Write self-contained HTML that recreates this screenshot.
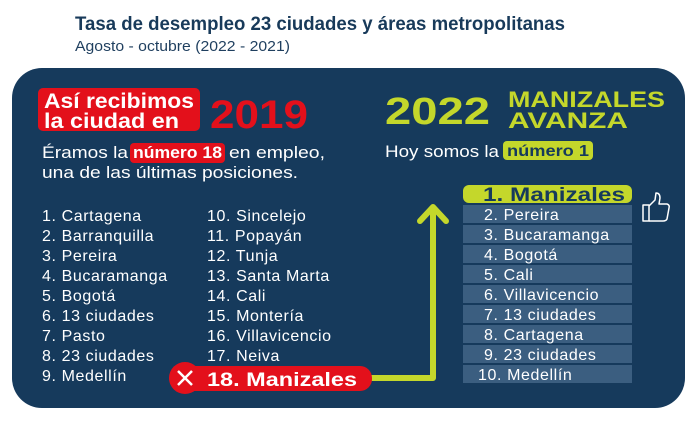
<!DOCTYPE html>
<html><head><meta charset="utf-8"><style>
html,body{margin:0;padding:0;background:#fff;width:700px;height:421px;overflow:hidden}
svg{display:block}
text{font-family:"Liberation Sans",sans-serif}
</style></head><body>
<svg width="700" height="421" viewBox="0 0 700 421" xmlns="http://www.w3.org/2000/svg">
<rect width="700" height="421" fill="#fff"/>
<text x="75" y="30" font-size="19" font-weight="bold" fill="#183a5a" textLength="490" lengthAdjust="spacingAndGlyphs">Tasa de desempleo 23 ciudades y áreas metropolitanas</text>
<text x="75" y="51" font-size="15" fill="#1f3f5f" textLength="215" lengthAdjust="spacingAndGlyphs">Agosto - octubre (2022 - 2021)</text>
<rect x="12" y="68" width="673" height="340" rx="30" fill="#163a5c"/>
<rect x="38" y="88" width="162" height="43" rx="5" fill="#e3101b"/>
<text x="44" y="108" font-size="21" font-weight="bold" fill="#fff" textLength="150" lengthAdjust="spacingAndGlyphs">Así recibimos</text>
<text x="44" y="128" font-size="21" font-weight="bold" fill="#fff" textLength="135" lengthAdjust="spacingAndGlyphs">la ciudad en</text>
<text x="210" y="128" font-size="40" font-weight="bold" fill="#e3101b" textLength="98" lengthAdjust="spacingAndGlyphs">2019</text>
<rect x="130" y="143" width="95" height="20" rx="4" fill="#e3101b"/>
<text x="42" y="158" font-size="17" fill="#fff" textLength="86" lengthAdjust="spacingAndGlyphs">Éramos la</text>
<text x="133" y="158" font-size="17" font-weight="bold" fill="#fff" textLength="89" lengthAdjust="spacingAndGlyphs">número 18</text>
<text x="229" y="158" font-size="17" fill="#fff" textLength="96" lengthAdjust="spacingAndGlyphs">en empleo,</text>
<text x="42" y="178" font-size="17" fill="#fff" textLength="256" lengthAdjust="spacingAndGlyphs">una de las últimas posiciones.</text>
<g font-size="16" fill="#fff" letter-spacing="0.6">
<text x="42" y="221">1. Cartagena</text>
<text x="42" y="241">2. Barranquilla</text>
<text x="42" y="261">3. Pereira</text>
<text x="42" y="281">4. Bucaramanga</text>
<text x="42" y="301">5. Bogotá</text>
<text x="42" y="321">6. 13 ciudades</text>
<text x="42" y="341">7. Pasto</text>
<text x="42" y="361">8. 23 ciudades</text>
<text x="42" y="381">9. Medellín</text>
<text x="207" y="221">10. Sincelejo</text>
<text x="207" y="241">11. Popayán</text>
<text x="207" y="261">12. Tunja</text>
<text x="207" y="281">13. Santa Marta</text>
<text x="207" y="301">14. Cali</text>
<text x="207" y="321">15. Montería</text>
<text x="207" y="341">16. Villavicencio</text>
<text x="207" y="361">17. Neiva</text>
</g>
<polyline points="370,378 433,378 433,208" fill="none" stroke="#c4d72b" stroke-width="6" stroke-linejoin="round"/>
<polyline points="420,221 433,207 446,221" fill="none" stroke="#c4d72b" stroke-width="6" stroke-linecap="round" stroke-linejoin="round"/>
<rect x="175" y="366" width="197" height="25" rx="12" fill="#e3101b"/>
<circle cx="185" cy="378" r="16" fill="#e3101b"/>
<path d="M178 371 L192 385 M192 371 L178 385" stroke="#fff" stroke-width="2.5"/>
<text x="207" y="386" font-size="19" font-weight="bold" fill="#fff" textLength="150" lengthAdjust="spacingAndGlyphs">18. Manizales</text>
<text x="385" y="124" font-size="38" font-weight="bold" fill="#c4d72b" textLength="105" lengthAdjust="spacingAndGlyphs">2022</text>
<text x="508" y="107" font-size="22" font-weight="bold" fill="#c4d72b" textLength="157" lengthAdjust="spacingAndGlyphs">MANIZALES</text>
<text x="508" y="128" font-size="22" font-weight="bold" fill="#c4d72b" textLength="120" lengthAdjust="spacingAndGlyphs">AVANZA</text>
<text x="385" y="157" font-size="17" fill="#fff" textLength="114" lengthAdjust="spacingAndGlyphs">Hoy somos la</text>
<rect x="503" y="141" width="90" height="19" rx="4" fill="#c4d72b"/>
<text x="507" y="156" font-size="16" font-weight="bold" fill="#163a5c" textLength="82" lengthAdjust="spacingAndGlyphs">número 1</text>
<rect x="463" y="185" width="169" height="18" rx="6" fill="#c4d72b"/>
<text x="483" y="201" font-size="19" font-weight="bold" fill="#163a5c" textLength="142" lengthAdjust="spacingAndGlyphs">1. Manizales</text>
<g fill="#3b5e80">
<rect x="463" y="205" width="169" height="18"/>
<rect x="463" y="225" width="169" height="18"/>
<rect x="463" y="245" width="169" height="18"/>
<rect x="463" y="265" width="169" height="18"/>
<rect x="463" y="285" width="169" height="18"/>
<rect x="463" y="305" width="169" height="18"/>
<rect x="463" y="325" width="169" height="18"/>
<rect x="463" y="345" width="169" height="18"/>
<rect x="463" y="365" width="169" height="18"/>
</g>
<g font-size="16" fill="#fff" letter-spacing="0.6">
<text x="484" y="220">2. Pereira</text>
<text x="484" y="240">3. Bucaramanga</text>
<text x="484" y="260">4. Bogotá</text>
<text x="484" y="280">5. Cali</text>
<text x="484" y="300">6. Villavicencio</text>
<text x="484" y="320">7. 13 ciudades</text>
<text x="484" y="340">8. Cartagena</text>
<text x="484" y="360">9. 23 ciudades</text>
<text x="478" y="380">10. Medellín</text>
</g>
<g fill="none" stroke="#fff" stroke-width="1.5" stroke-linejoin="round">
<rect x="643" y="205" width="6" height="16"/>
<path d="M649 206 L655 200 L656 193 Q660 193 660 198 L659 204 L667 204 Q670 205 669 208 L667 219 Q666 221 663 221 L649 221"/>
</g>
</svg>
</body></html>
